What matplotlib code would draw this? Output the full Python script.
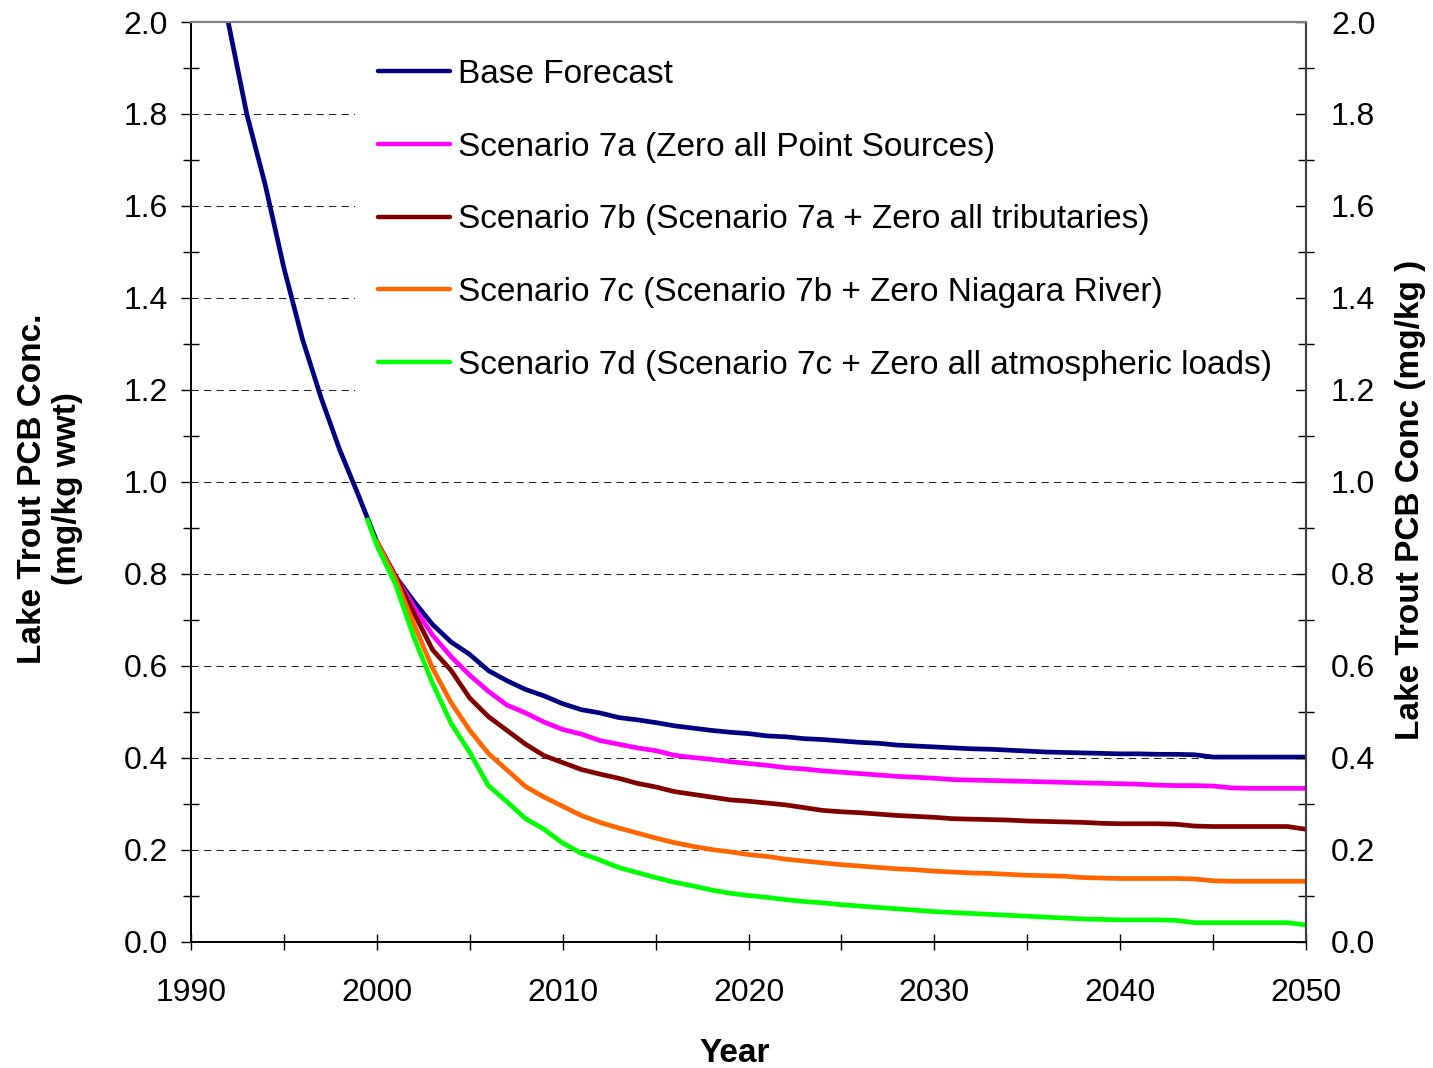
import matplotlib
matplotlib.use('Agg')
import matplotlib.pyplot as plt
from matplotlib.ticker import MultipleLocator

plt.rcParams['font.family'] = ['Liberation Sans', 'DejaVu Sans']

# base forecast, 1992-2050
base_years = list(range(1992, 2051))
base = [2.00, 1.80, 1.645, 1.465, 1.31, 1.183, 1.07, 0.972, 0.87, 0.795,
        0.74, 0.69, 0.652, 0.625, 0.59, 0.568, 0.549, 0.535, 0.518, 0.505,
        0.498, 0.488, 0.483, 0.477, 0.47, 0.465, 0.46, 0.456, 0.453, 0.448,
        0.446, 0.442, 0.44, 0.437, 0.434, 0.432, 0.428, 0.426, 0.424, 0.422,
        0.420, 0.419, 0.417, 0.415, 0.413, 0.412, 0.411, 0.410, 0.409, 0.409,
        0.408, 0.408, 0.407, 0.402, 0.402, 0.402, 0.402, 0.402, 0.402]

# scenarios, 2000-2050
scen_years = list(range(2000, 2051))
scen_7a = [0.87, 0.795, 0.728, 0.667, 0.62, 0.58, 0.545, 0.515, 0.498, 0.478,
           0.462, 0.452, 0.438, 0.43, 0.422, 0.416, 0.406, 0.401, 0.397, 0.392,
           0.388, 0.384, 0.379, 0.376, 0.372, 0.369, 0.366, 0.363, 0.36, 0.358,
           0.356, 0.353, 0.352, 0.351, 0.350, 0.349, 0.348, 0.347, 0.346, 0.345,
           0.344, 0.343, 0.341, 0.340, 0.340, 0.339, 0.335, 0.334, 0.334, 0.334,
           0.334]
scen_7b = [0.87, 0.795, 0.715, 0.635, 0.59, 0.53, 0.49, 0.46, 0.43, 0.405,
           0.39, 0.375, 0.365, 0.356, 0.345, 0.337, 0.327, 0.321, 0.315, 0.309,
           0.306, 0.302, 0.298, 0.292, 0.286, 0.283, 0.281, 0.278, 0.275, 0.273,
           0.271, 0.268, 0.267, 0.266, 0.265, 0.263, 0.262, 0.261, 0.260, 0.258,
           0.257, 0.257, 0.257, 0.256, 0.252, 0.251, 0.251, 0.251, 0.251, 0.251,
           0.245]
scen_7c = [0.87, 0.79, 0.69, 0.595, 0.52, 0.46, 0.41, 0.374, 0.338, 0.315,
           0.295, 0.275, 0.26, 0.248, 0.237, 0.226, 0.216, 0.208, 0.201, 0.196,
           0.19, 0.186, 0.18, 0.176, 0.172, 0.168, 0.165, 0.162, 0.159, 0.157,
           0.154, 0.152, 0.150, 0.149, 0.147, 0.145, 0.144, 0.143, 0.140, 0.139,
           0.138, 0.138, 0.138, 0.138, 0.137, 0.133, 0.132, 0.132, 0.132, 0.132,
           0.132]

# 7d starts half a year earlier
years_7d = [1999.5] + scen_years
scen_7d = [0.917, 0.862, 0.778, 0.662, 0.562, 0.475, 0.412, 0.34, 0.305, 0.268,
           0.245, 0.215, 0.193, 0.178, 0.162, 0.151, 0.14, 0.13, 0.122, 0.113,
           0.106, 0.101, 0.097, 0.092, 0.088, 0.085, 0.081, 0.078, 0.075, 0.072,
           0.069, 0.066, 0.064, 0.062, 0.060, 0.058, 0.056, 0.054, 0.052, 0.050,
           0.049, 0.048, 0.048, 0.048, 0.047, 0.042, 0.042, 0.042, 0.042, 0.042,
           0.042, 0.037]

labels = ['Base Forecast',
          'Scenario 7a (Zero all Point Sources)',
          'Scenario 7b (Scenario 7a + Zero all tributaries)',
          'Scenario 7c (Scenario 7b + Zero Niagara River)',
          'Scenario 7d (Scenario 7c + Zero all atmospheric loads)']
colors = ['#000080', '#FF00FF', '#800000', '#FF6600', '#00FF00']


def main():

    fig = plt.figure(figsize=(14.33, 10.68), dpi=100)
    ax = fig.add_axes([0.1333, 0.118, 0.7781, 0.8614])

    lw = 3.4
    ax.plot(base_years, base, color=colors[0], lw=lw, label=labels[0])
    ax.plot(scen_years, scen_7a, color=colors[1], lw=lw, label=labels[1])
    ax.plot(scen_years, scen_7b, color=colors[2], lw=lw, label=labels[2])
    ax.plot(scen_years, scen_7c, color=colors[3], lw=lw, label=labels[3])
    ax.plot(years_7d, scen_7d, color=colors[4], lw=lw, label=labels[4])

    ax.set_xlim(1990, 2050)
    ax.set_ylim(0, 2.0)

    # dashed grid
    for yv in [0.2, 0.4, 0.6, 0.8, 1.0, 1.2, 1.4, 1.6, 1.8]:
        ax.axhline(yv, color='#222222', lw=0.75, ls=(0, (7, 5)), zorder=0.5)

    ax.xaxis.set_major_locator(MultipleLocator(10))
    ax.xaxis.set_minor_locator(MultipleLocator(5))
    ax.yaxis.set_major_locator(MultipleLocator(0.2))
    ax.yaxis.set_minor_locator(MultipleLocator(0.1))
    ax.yaxis.set_major_formatter(plt.FormatStrFormatter('%.1f'))

    ax.tick_params(axis='x', which='both', direction='inout', length=12,
                   width=1, labelsize=23, pad=20)
    ax.tick_params(axis='y', which='major', direction='out', length=7.5,
                   width=1, labelsize=23, pad=9)
    ax.tick_params(axis='y', which='minor', direction='inout', length=11.5, width=1)

    ax2 = ax.twinx()
    ax2.set_ylim(0, 2.0)
    ax2.yaxis.set_major_locator(MultipleLocator(0.2))
    ax2.yaxis.set_minor_locator(MultipleLocator(0.1))
    ax2.yaxis.set_major_formatter(plt.FormatStrFormatter('%.1f'))
    ax2.tick_params(axis='y', which='major', direction='in', length=7.5,
                    width=1, labelsize=23, pad=18)
    ax2.tick_params(axis='y', which='minor', direction='inout', length=11.5, width=1)

    for a in (ax, ax2):
        a.spines['top'].set_color('#808080')
        a.spines['top'].set_linewidth(1.5)
        a.spines['left'].set_linewidth(1.2)
        a.spines['bottom'].set_linewidth(1.2)
        a.spines['right'].set_color('#404040')
        a.spines['right'].set_linewidth(1.5)

    leg = ax.legend(loc='upper left', bbox_to_anchor=(0.147, 0.985),
                    borderaxespad=0, frameon=True, fontsize=24,
                    handlelength=2.15, handletextpad=0.25, labelspacing=1.25,
                    borderpad=0.7)
    leg.get_frame().set_facecolor('white')
    leg.get_frame().set_edgecolor('none')
    leg.get_frame().set_alpha(1)
    for line in leg.get_lines():
        line.set_linewidth(3.2)
        line.set_solid_capstyle('round')

    fig.text(735 / 1433, 1 - 1053 / 1068, 'Year', fontsize=24,
             fontweight='bold', ha='center', va='center')
    fig.text(50 / 1433, 1 - 489 / 1068, 'Lake Trout PCB Conc.\n(mg/kg wwt)',
             fontsize=24, fontweight='bold', ha='center', va='center',
             rotation=90, linespacing=1.15)
    fig.text(1410 / 1433, 1 - 500 / 1068, 'Lake Trout PCB Conc (mg/kg )',
             fontsize=24, fontweight='bold', ha='center', va='center',
             rotation=90)

    fig.savefig('out.png', dpi=100)


if __name__ == '__main__':
    main()
